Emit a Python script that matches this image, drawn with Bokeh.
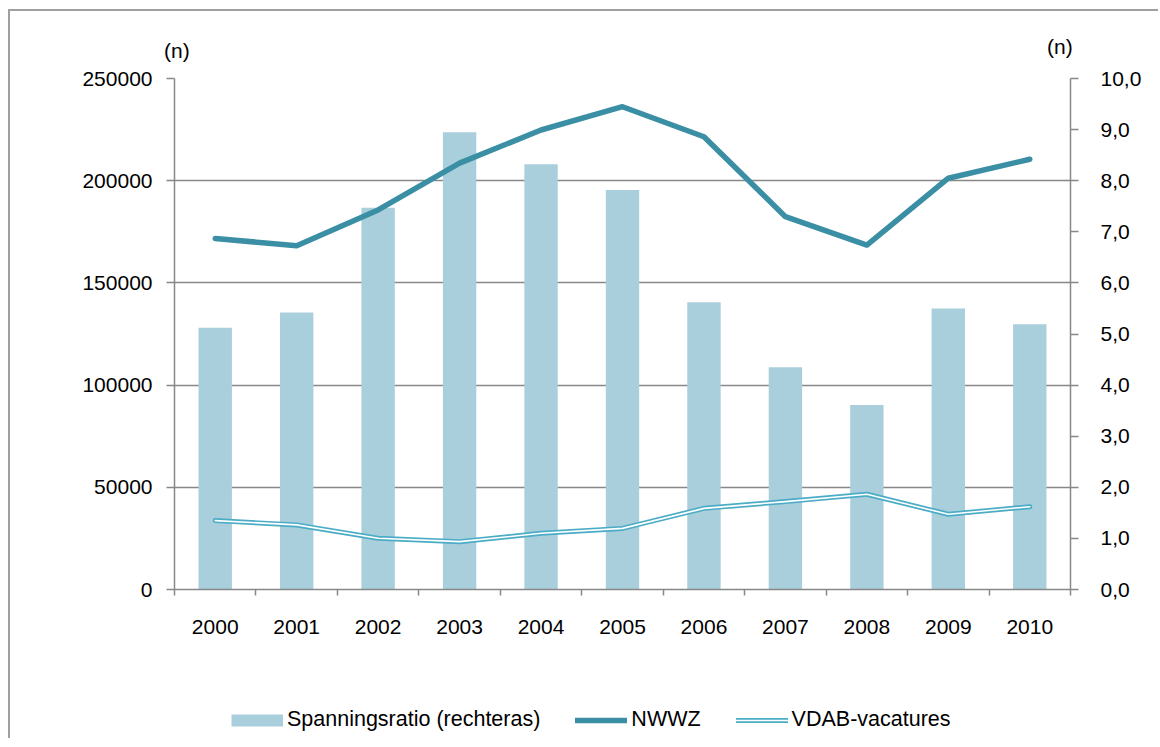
from bokeh.plotting import figure
from bokeh.layouts import column
from bokeh.models import (Range1d, LinearAxis, FixedTicker, CustomJSTickFormatter,
                          Legend, LegendItem, Div, ColumnDataSource)
from bokeh.embed import file_html
from bokeh.resources import INLINE

# ---- data ----
years = [2000, 2001, 2002, 2003, 2004, 2005, 2006, 2007, 2008, 2009, 2010]
spanningsratio = [5.12, 5.42, 7.47, 8.95, 8.32, 7.82, 5.62, 4.35, 3.61, 5.50, 5.19]
nwwz = [171700, 168200, 185700, 208600, 224800, 236200, 221500, 182400, 168500, 201200, 210500]
vdab = [33700, 31600, 25100, 23400, 27500, 29900, 39700, 43000, 46600, 36800, 40500]
left_ticks = [0, 50000, 100000, 150000, 200000, 250000]
right_ticks = [0, 1, 2, 3, 4, 5, 6, 7, 8, 9, 10]
series_names = ["Spanningsratio (rechteras)", "NWWZ", "VDAB-vacatures"]
unit_label = "(n)"

FONT = "Liberation Sans"
FS = "21px"
GRID = "#888888"
BAR = "#a9cfdc"
NW = "#3a8fa5"
VD = "#4bacc6"
W = 1150

# ---------- top strip with the unit labels (left and right value axes) ----------
unit_html = (
    '<div style="position:relative;width:%dpx;height:53px;font-family:\'Liberation Sans\';'
    'font-size:21px;line-height:24px;color:black;">'
    '<span style="position:absolute;left:154px;top:28px;white-space:nowrap;">%s</span>'
    '<span style="position:absolute;left:1037px;top:23.5px;white-space:nowrap;">%s</span>'
    '</div>' % (W, unit_label, unit_label))
top = Div(text=unit_html, width=W, height=53, margin=(0, 0, 0, 0))

# ---------- main chart ----------
src = ColumnDataSource(dict(year=years, ratio=spanningsratio, nwwz=nwwz, vdab=vdab))

p = figure(width=W, height=616, output_backend="svg", toolbar_location=None,
           x_range=Range1d(years[0] - 0.5, years[-1] + 0.5),
           y_range=Range1d(0, 250000),
           min_border_left=164, min_border_right=90, min_border_top=14, min_border_bottom=91)
p.extra_y_ranges = {"right": Range1d(0, 10)}
p.outline_line_color = None
p.background_fill_color = "white"
p.border_fill_color = "white"

p.vbar(x="year", top="ratio", width=0.41, source=src, y_range_name="right",
       fill_color=BAR, line_color=None)
p.line("year", "nwwz", source=src, line_color=NW, line_width=5.5,
       line_cap="round", line_join="round")
p.line("year", "vdab", source=src, line_color=VD, line_width=5,
       line_cap="round", line_join="round")
p.line("year", "vdab", source=src, line_color="white", line_width=1.6,
       line_cap="round", line_join="round")


def style_axis(ax):
    ax.axis_line_color = GRID
    ax.axis_line_width = 1.5
    ax.major_tick_line_color = GRID
    ax.major_tick_line_width = 1.5
    ax.major_label_text_font = FONT
    ax.major_label_text_font_size = FS
    ax.major_label_text_color = "black"
    ax.minor_tick_line_color = None


yax = p.yaxis[0]
yax.ticker = FixedTicker(ticks=left_ticks)
yax.formatter = CustomJSTickFormatter(code="return tick.toFixed(0);")
style_axis(yax)
yax.major_tick_out = 8
yax.major_tick_in = 0
yax.major_label_standoff = 14

rax = LinearAxis(y_range_name="right", ticker=FixedTicker(ticks=right_ticks),
                 formatter=CustomJSTickFormatter(code="return tick.toFixed(1).replace('.', ',');"))
style_axis(rax)
rax.major_tick_out = 8
rax.major_tick_in = 0
rax.major_label_standoff = 22
p.add_layout(rax, "right")

xax = p.xaxis[0]
xax.ticker = FixedTicker(ticks=years, minor_ticks=[y - 0.5 for y in years] + [years[-1] + 0.5])
xax.formatter = CustomJSTickFormatter(code="return tick.toFixed(0);")
style_axis(xax)
xax.major_tick_line_color = None
xax.major_tick_out = 6
xax.minor_tick_line_color = GRID
xax.minor_tick_line_width = 1.5
xax.minor_tick_out = 6
xax.minor_tick_in = 0
xax.major_label_standoff = 24

p.xgrid.grid_line_color = None
p.ygrid.ticker = FixedTicker(ticks=left_ticks)
p.ygrid.grid_line_color = GRID
p.ygrid.grid_line_width = 1.5

# ---------- bottom strip with the legend ----------
leg = figure(width=W, height=60, output_backend="svg", toolbar_location=None,
             x_range=Range1d(0, 1), y_range=Range1d(0, 1),
             x_axis_type=None, y_axis_type=None,
             min_border_left=0, min_border_right=0, min_border_top=0, min_border_bottom=0)
leg.outline_line_color = None
leg.background_fill_color = "white"
leg.border_fill_color = "white"
leg.grid.visible = False
nan = [float("nan")]
g_bar = leg.line(x=nan, y=nan, line_color=BAR, line_width=12, line_cap="butt")
g_nw = leg.line(x=nan, y=nan, line_color=NW, line_width=5.5, line_cap="round")
g_vd1 = leg.line(x=nan, y=nan, line_color=VD, line_width=5, line_cap="round")
g_vd2 = leg.line(x=nan, y=nan, line_color="white", line_width=1.6, line_cap="round")
legend = Legend(items=[LegendItem(label=series_names[0], renderers=[g_bar]),
                       LegendItem(label=series_names[1], renderers=[g_nw]),
                       LegendItem(label=series_names[2], renderers=[g_vd1, g_vd2])],
                orientation="horizontal", location=(57, 8),
                glyph_width=52, glyph_height=24, label_standoff=4, spacing=35,
                padding=0, margin=0, border_line_color=None, background_fill_alpha=0,
                label_text_font=FONT, label_text_font_size="21.5px", label_text_color="black")
leg.add_layout(legend, "center")

layout = column(top, p, leg, spacing=0)
layout.styles = {"margin-left": "10px", "margin-top": "11px",
                 "box-shadow": "-2px -2px 0 0 #a0a0a0"}

open("out.html", "w").write(file_html(layout, INLINE))
